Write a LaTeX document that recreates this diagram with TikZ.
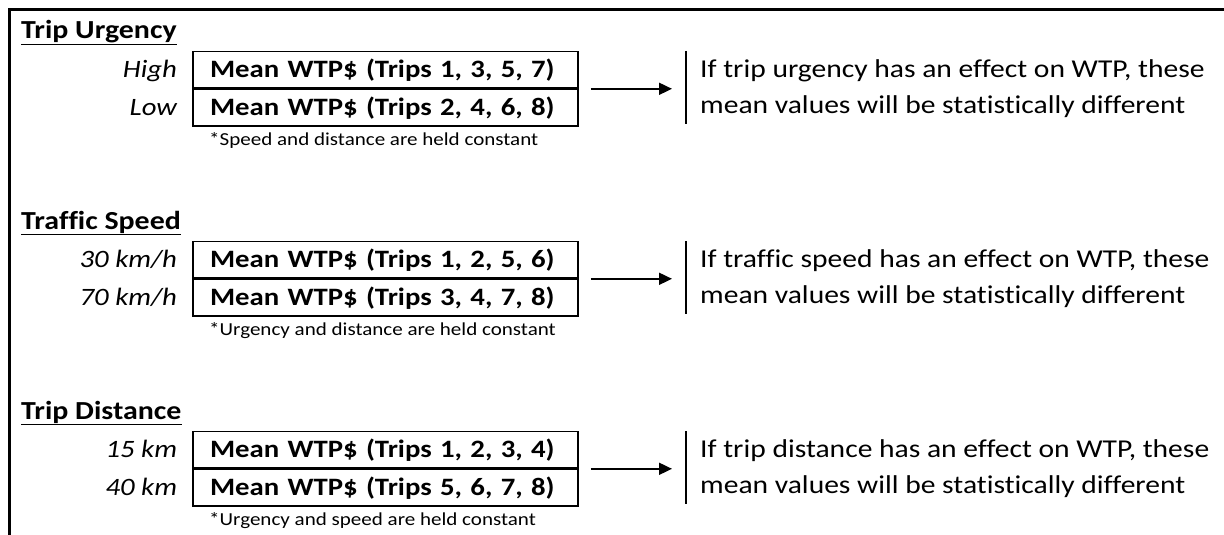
\documentclass[tikz,border=0pt]{standalone}
\usepackage{fontspec}
\setmainfont[FakeStretch=1.15, Ligatures={NoCommon}]{Carlito}
\usetikzlibrary{arrows.meta,calc}
\tikzset{
  titletext/.style={anchor=base west, inner sep=0pt, font=\bfseries\fontsize{26}{30}\selectfont},
  ulinestyle/.style={line width=1.8pt},
  rowbox/.style={draw, line width=1.6pt, minimum height=36.5pt, text width=351pt, inner xsep=17pt, inner ysep=0pt, align=left, font=\bfseries\fontsize{25}{30}\selectfont},
  lvl/.style={anchor=base east, inner sep=0pt, font=\itshape\fontsize{25}{30}\selectfont},
  notetext/.style={anchor=base west, inner sep=0pt, font=\fontsize{18.3}{22}\selectfont},
  effecttext/.style={anchor=west, inner sep=0pt, align=left, font=\fontsize{25.7}{36.5}\selectfont},
  flowarrow/.style={line width=1.8pt, -{Triangle[length=13pt,width=12pt]}},
  barline/.style={line width=1.8pt},
  framel/.style={line width=2.6pt}
}
% #1 offset, #2 index, #3 title, #4 trips a, #5 trips b, #6 level a, #7 level b, #8 note, #9 factor
\newcommand{\wtpblock}[9]{%
  \node[titletext] (t#2) at (21,#1+39) {#3};
  \draw[ulinestyle] ([yshift=-5.5pt]t#2.base west) -- ([yshift=-5.5pt]t#2.base east);
  \node[rowbox] (ra#2) at (385.5,#1+69.75) {Mean WTP\$ (Trips #4)};
  \node[rowbox, anchor=north] (rb#2) at (ra#2.south) {Mean WTP\$ (Trips #5)};
  \node[lvl] (la#2) at ([xshift=-15pt]ra#2.base west) {#6};
  \node[lvl] (lb#2) at ([xshift=-15pt]rb#2.base west) {#7};
  \node[notetext] (n#2) at (209,#1+145) {#8};
  \coordinate (bt#2) at (686,#1+51);
  \coordinate (bb#2) at (686,#1+124);
  \draw[barline] (bt#2) -- (bb#2);
  \draw[flowarrow, shorten <=12pt, shorten >=14pt] (ra#2.south east) -- (ra#2.south east -| bt#2);
  \node[effecttext] (e#2) at (700,#1+88.5) {If #9 has an effect on WTP, these\\mean values will be statistically different};
}
\begin{document}
\begin{tikzpicture}[x=1pt,y=-1pt]
\useasboundingbox (0,0) rectangle (1224,535);
\fill[white] (0,0) rectangle (1224,535);
\coordinate (fa) at (1226,9.5);
\coordinate (fb) at (9.5,9.5);
\coordinate (fc) at (9.5,537);
\draw[framel] (fa) -- (fb) -- (fc);
\wtpblock{0}{1}{Trip Urgency}{1, 3, 5, 7}{2, 4, 6, 8}{High}{Low}{*Speed and distance are held constant}{trip urgency}
\wtpblock{190}{2}{Traffic Speed}{1, 2, 5, 6}{3, 4, 7, 8}{30 km/h}{70 km/h}{*Urgency and distance are held constant}{traffic speed}
\wtpblock{380}{3}{Trip Distance}{1, 2, 3, 4}{5, 6, 7, 8}{15 km}{40 km}{*Urgency and speed are held constant}{trip distance}
\end{tikzpicture}
\end{document}
